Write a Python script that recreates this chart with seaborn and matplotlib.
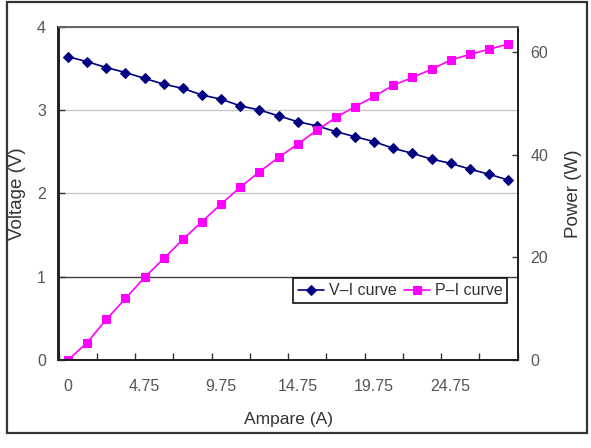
import numpy as np
import pandas as pd
import seaborn as sns
import matplotlib.pyplot as plt
from matplotlib.patches import Rectangle
from matplotlib.ticker import FixedLocator

# data
amps = [0, 1, 2.25, 3.5, 4.75, 6, 7.25, 8.5, 9.75, 11, 12.25, 13.5,
        14.75, 16, 17.25, 18.5, 19.75, 21, 22.25, 23.5, 24.75, 26, 27.25, 28.5]
voltage = [3.64, 3.58, 3.51, 3.45, 3.38, 3.31, 3.26, 3.18, 3.13, 3.05, 3.00, 2.93,
           2.86, 2.81, 2.74, 2.68, 2.62, 2.54, 2.48, 2.41, 2.36, 2.29, 2.23, 2.16]
power = [0, 3.4, 7.9, 12.0, 16.1, 19.8, 23.5, 27.0, 30.4, 33.7, 36.7, 39.5,
         42.1, 44.8, 47.3, 49.4, 51.4, 53.6, 55.1, 56.7, 58.5, 59.6, 60.6, 61.6]
x_label_every = 4

df = pd.DataFrame({"idx": np.arange(len(amps)), "amps": amps,
                   "voltage": voltage, "power": power})

sns.set_style("white")
plt.rcParams['font.family'] = ['Liberation Sans', 'DejaVu Sans']

fig = plt.figure(figsize=(5.91, 4.48), dpi=100)
ax = fig.add_axes([58.5/591, 1-360/448, 459.2/591, 333.3/448])
ax2 = ax.twinx()

sns.lineplot(data=df, x="idx", y="voltage", ax=ax, color="#000080", lw=1.2,
             marker="D", ms=5, mec="#000080", mfc="#000080", label="V–I curve", legend=False)
sns.lineplot(data=df, x="idx", y="power", ax=ax2, color="#FF00FF", lw=1.2,
             marker="s", ms=5.5, mec="#FF00FF", mfc="#FF00FF", label="P–I curve", legend=False)

n = len(amps)
ax.set_xlim(-0.5, n - 0.5)
ax.set_ylim(0, 4)
ax2.set_ylim(0, 65)
ax.set_yticks([0, 1, 2, 3, 4])
ax2.set_yticks([0, 20, 40, 60])
pos = list(range(0, n, x_label_every))
ax.set_xticks(pos)
ax.set_xticklabels([f"{amps[i]:g}" for i in pos])
ax.xaxis.set_minor_locator(FixedLocator(np.arange(-0.5, n, 2)))

ax.grid(axis="y", color="#c8c8c8", lw=1.0)
ax.grid(axis="x", visible=False)
ax.yaxis.get_gridlines()[1].set_color("#404040")
ax.set_axisbelow(True)

tick_col = "#555555"
ax.tick_params(axis="x", which="major", length=0, pad=14, labelsize=11.5, labelcolor=tick_col)
ax.tick_params(axis="x", which="minor", direction="in", length=5, width=1, color="#333333", bottom=True)
ax.tick_params(axis="y", direction="in", length=4, width=1, color="#333333", pad=9,
               labelsize=11.5, labelcolor=tick_col, left=True)
ax2.tick_params(axis="y", direction="in", length=4, width=1, color="#333333", pad=9,
                labelsize=11.5, labelcolor=tick_col, right=True)

for a in (ax, ax2):
    for s in a.spines.values():
        s.set_color("#222222")
        s.set_linewidth(1.4)
    a.spines["top"].set_color("#666666")

ax.set_xlabel("Ampare (A)", fontsize=12.5, color="#333333")
ax.set_ylabel("Voltage (V)", fontsize=13.5, color="#333333")
ax2.set_ylabel("Power (W)", fontsize=13.5, color="#333333")
ax.xaxis.set_label_coords(0.5, -0.155)
ax.yaxis.set_label_coords(-0.07, 0.5)
ax2.yaxis.set_label_coords(1.103, 0.5)

h1, l1 = ax.get_legend_handles_labels()
h2, l2 = ax2.get_legend_handles_labels()
leg = ax2.legend(h1 + h2, l1 + l2, loc="lower right", bbox_to_anchor=(0.977, 0.171),
                 ncol=2, fontsize=11.5, frameon=True, fancybox=False, framealpha=1,
                 edgecolor="#111111", handlelength=1.6, handletextpad=0.3,
                 columnspacing=0.5, borderpad=0.3, borderaxespad=0)
leg.get_frame().set_linewidth(1.2)
for t in leg.get_texts():
    t.set_color("#333333")

fig.patches.append(Rectangle((7/591, 1-433/448), 580/591, 431/448,
                             transform=fig.transFigure, fill=False,
                             ec="#333333", lw=1.6))

fig.savefig("out.png", dpi=100)
